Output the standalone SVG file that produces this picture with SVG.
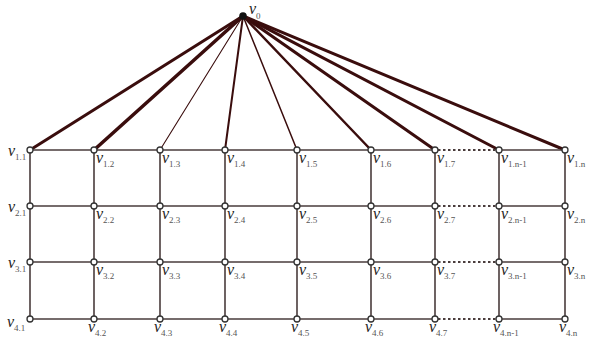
<svg xmlns="http://www.w3.org/2000/svg" width="589" height="338" viewBox="0 0 589 338">
<style>
.g{stroke:#4a3c3c;stroke-width:1.6;fill:none}
.d{stroke:#4a3c3c;stroke-width:1.8;fill:none;stroke-dasharray:2.5 2.5}
.s{stroke:#3a0d0d;fill:none;stroke-linecap:round}
.n{fill:#fff;stroke:#333;stroke-width:1.3}
text{font-family:"Liberation Serif",serif;fill:#222}
.v{font-style:italic;font-size:16px}
.b{font-size:9px;fill:#555}
</style>
<rect width="589" height="338" fill="#fff"/>
<g id="connectors">
<g class="s">
<line x1="243" y1="16" x2="30" y2="150" stroke-width="3"/>
<line x1="243" y1="16" x2="94" y2="150" stroke-width="3.5"/>
<line x1="243" y1="16" x2="160" y2="150" stroke-width="1.1"/>
<line x1="243" y1="16" x2="225" y2="150" stroke-width="2"/>
<line x1="243" y1="16" x2="297" y2="150" stroke-width="1.5"/>
<line x1="243" y1="16" x2="371" y2="150" stroke-width="2.5"/>
<line x1="243" y1="16" x2="435" y2="150" stroke-width="3"/>
<line x1="243" y1="16" x2="499" y2="150" stroke-width="3"/>
<line x1="243" y1="16" x2="565" y2="150" stroke-width="3"/>
</g>
<g class="g">
<path d="M30 150H435M499 150H565M30 206H435M499 206H565M30 262H435M499 262H565M30 319H435M499 319H565"/>
<path d="M30 150V319M94 150V319M160 150V319M225 150V319M297 150V319M371 150V319M435 150V319M499 150V319M565 150V319"/>
</g>
<path class="d" d="M438 150H496M438 206H496M438 262H496M438 319H496"/>
</g>
<g id="v0"><circle cx="243" cy="16" r="3.8" fill="#111"/><text x="249" y="14"><tspan class="v">v</tspan><tspan class="b" dy="5">0</tspan></text></g>
<g id="v1-1"><circle class="n" cx="30" cy="150" r="3"/><text x="8" y="156"><tspan class="v">v</tspan><tspan class="b" dy="4">1.1</tspan></text></g>
<g id="v1-2"><circle class="n" cx="94" cy="150" r="3"/><text x="96" y="163"><tspan class="v">v</tspan><tspan class="b" dy="4">1.2</tspan></text></g>
<g id="v1-3"><circle class="n" cx="160" cy="150" r="3"/><text x="162" y="163"><tspan class="v">v</tspan><tspan class="b" dy="4">1.3</tspan></text></g>
<g id="v1-4"><circle class="n" cx="225" cy="150" r="3"/><text x="227" y="163"><tspan class="v">v</tspan><tspan class="b" dy="4">1.4</tspan></text></g>
<g id="v1-5"><circle class="n" cx="297" cy="150" r="3"/><text x="299" y="163"><tspan class="v">v</tspan><tspan class="b" dy="4">1.5</tspan></text></g>
<g id="v1-6"><circle class="n" cx="371" cy="150" r="3"/><text x="373" y="163"><tspan class="v">v</tspan><tspan class="b" dy="4">1.6</tspan></text></g>
<g id="v1-7"><circle class="n" cx="435" cy="150" r="3"/><text x="437" y="163"><tspan class="v">v</tspan><tspan class="b" dy="4">1.7</tspan></text></g>
<g id="v1-n1"><circle class="n" cx="499" cy="150" r="3"/><text x="501" y="163"><tspan class="v">v</tspan><tspan class="b" dy="4">1.n-1</tspan></text></g>
<g id="v1-n"><circle class="n" cx="565" cy="150" r="3"/><text x="567" y="163"><tspan class="v">v</tspan><tspan class="b" dy="4">1.n</tspan></text></g>
<g id="v2-1"><circle class="n" cx="30" cy="206" r="3"/><text x="8" y="212"><tspan class="v">v</tspan><tspan class="b" dy="4">2.1</tspan></text></g>
<g id="v2-2"><circle class="n" cx="94" cy="206" r="3"/><text x="96" y="219"><tspan class="v">v</tspan><tspan class="b" dy="4">2.2</tspan></text></g>
<g id="v2-3"><circle class="n" cx="160" cy="206" r="3"/><text x="162" y="219"><tspan class="v">v</tspan><tspan class="b" dy="4">2.3</tspan></text></g>
<g id="v2-4"><circle class="n" cx="225" cy="206" r="3"/><text x="227" y="219"><tspan class="v">v</tspan><tspan class="b" dy="4">2.4</tspan></text></g>
<g id="v2-5"><circle class="n" cx="297" cy="206" r="3"/><text x="299" y="219"><tspan class="v">v</tspan><tspan class="b" dy="4">2.5</tspan></text></g>
<g id="v2-6"><circle class="n" cx="371" cy="206" r="3"/><text x="373" y="219"><tspan class="v">v</tspan><tspan class="b" dy="4">2.6</tspan></text></g>
<g id="v2-7"><circle class="n" cx="435" cy="206" r="3"/><text x="437" y="219"><tspan class="v">v</tspan><tspan class="b" dy="4">2.7</tspan></text></g>
<g id="v2-n1"><circle class="n" cx="499" cy="206" r="3"/><text x="501" y="219"><tspan class="v">v</tspan><tspan class="b" dy="4">2.n-1</tspan></text></g>
<g id="v2-n"><circle class="n" cx="565" cy="206" r="3"/><text x="567" y="219"><tspan class="v">v</tspan><tspan class="b" dy="4">2.n</tspan></text></g>
<g id="v3-1"><circle class="n" cx="30" cy="262" r="3"/><text x="8" y="268"><tspan class="v">v</tspan><tspan class="b" dy="4">3.1</tspan></text></g>
<g id="v3-2"><circle class="n" cx="94" cy="262" r="3"/><text x="96" y="275"><tspan class="v">v</tspan><tspan class="b" dy="4">3.2</tspan></text></g>
<g id="v3-3"><circle class="n" cx="160" cy="262" r="3"/><text x="162" y="275"><tspan class="v">v</tspan><tspan class="b" dy="4">3.3</tspan></text></g>
<g id="v3-4"><circle class="n" cx="225" cy="262" r="3"/><text x="227" y="275"><tspan class="v">v</tspan><tspan class="b" dy="4">3.4</tspan></text></g>
<g id="v3-5"><circle class="n" cx="297" cy="262" r="3"/><text x="299" y="275"><tspan class="v">v</tspan><tspan class="b" dy="4">3.5</tspan></text></g>
<g id="v3-6"><circle class="n" cx="371" cy="262" r="3"/><text x="373" y="275"><tspan class="v">v</tspan><tspan class="b" dy="4">3.6</tspan></text></g>
<g id="v3-7"><circle class="n" cx="435" cy="262" r="3"/><text x="437" y="275"><tspan class="v">v</tspan><tspan class="b" dy="4">3.7</tspan></text></g>
<g id="v3-n1"><circle class="n" cx="499" cy="262" r="3"/><text x="501" y="275"><tspan class="v">v</tspan><tspan class="b" dy="4">3.n-1</tspan></text></g>
<g id="v3-n"><circle class="n" cx="565" cy="262" r="3"/><text x="567" y="275"><tspan class="v">v</tspan><tspan class="b" dy="4">3.n</tspan></text></g>
<g id="v4-1"><circle class="n" cx="30" cy="319" r="3"/><text x="7" y="327"><tspan class="v">v</tspan><tspan class="b" dy="4">4.1</tspan></text></g>
<g id="v4-2"><circle class="n" cx="94" cy="319" r="3"/><text x="88" y="332"><tspan class="v">v</tspan><tspan class="b" dy="4">4.2</tspan></text></g>
<g id="v4-3"><circle class="n" cx="160" cy="319" r="3"/><text x="154" y="332"><tspan class="v">v</tspan><tspan class="b" dy="4">4.3</tspan></text></g>
<g id="v4-4"><circle class="n" cx="225" cy="319" r="3"/><text x="219" y="332"><tspan class="v">v</tspan><tspan class="b" dy="4">4.4</tspan></text></g>
<g id="v4-5"><circle class="n" cx="297" cy="319" r="3"/><text x="291" y="332"><tspan class="v">v</tspan><tspan class="b" dy="4">4.5</tspan></text></g>
<g id="v4-6"><circle class="n" cx="371" cy="319" r="3"/><text x="365" y="332"><tspan class="v">v</tspan><tspan class="b" dy="4">4.6</tspan></text></g>
<g id="v4-7"><circle class="n" cx="435" cy="319" r="3"/><text x="429" y="332"><tspan class="v">v</tspan><tspan class="b" dy="4">4.7</tspan></text></g>
<g id="v4-n1"><circle class="n" cx="499" cy="319" r="3"/><text x="493" y="332"><tspan class="v">v</tspan><tspan class="b" dy="4">4.n-1</tspan></text></g>
<g id="v4-n"><circle class="n" cx="565" cy="319" r="3"/><text x="559" y="332"><tspan class="v">v</tspan><tspan class="b" dy="4">4.n</tspan></text></g>
</svg>
